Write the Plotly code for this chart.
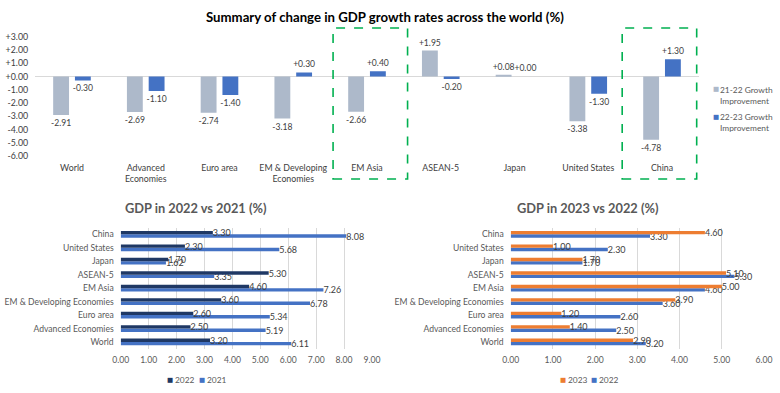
import plotly.graph_objects as go

# ---------------- data ----------------
regions = ["World", "Advanced Economies", "Euro area", "EM & Developing Economies",
           "EM Asia", "ASEAN-5", "Japan", "United States", "China"]
top_tick_labels = ["World", "Advanced<br>Economies", "Euro area", "EM & Developing<br>Economies",
                   "EM Asia", "ASEAN-5", "Japan", "United States", "China"]
change_21_22 = [-2.91, -2.69, -2.74, -3.18, -2.66, 1.95, 0.08, -3.38, -4.78]
change_22_23 = [-0.30, -1.10, -1.40, 0.30, 0.40, -0.20, 0.00, -1.30, 1.30]

gdp_2021 = [6.11, 5.19, 5.34, 6.78, 7.26, 3.35, 1.62, 5.68, 8.08]
gdp_2022 = [3.20, 2.50, 2.60, 3.60, 4.60, 5.30, 1.70, 2.30, 3.30]
gdp_2023 = [2.90, 1.40, 1.20, 3.90, 5.00, 5.10, 1.70, 1.00, 4.60]

top_y_ticks = [3, 2, 1, 0, -1, -2, -3, -4, -5, -6]
left_x_ticks = [0, 1, 2, 3, 4, 5, 6, 7, 8, 9]
right_x_ticks = [0, 1, 2, 3, 4, 5, 6]
highlighted = ["EM Asia", "China"]

top_names = ["21-22 Growth Improvement", "22-23 Growth Improvement"]
titles = ["Summary of change in GDP growth rates across the world (%)",
          "GDP in 2022 vs 2021 (%)", "GDP in 2023 vs 2022 (%)"]

# ---------------- style ----------------
FONT = "Lato"
GRAY = "#ADB9CA"
BLUE = "#4472C4"
NAVY = "#1F3864"
ORANGE = "#ED7D31"
LBL = "#404040"
TICK = "#595959"
W, H = 780, 393
N = len(regions)
CAT_RANGE = [-0.5, N - 0.5]

def px(xp):
    return xp / W

def py(yp):
    return 1 - yp / H

fig = go.Figure()

# top chart bars
bw = 0.215
top_lbl = dict(size=8.6, color=LBL, family=FONT)
fig.add_trace(go.Bar(
    x=regions, y=change_21_22, name=top_names[0], width=bw, offset=-0.255,
    marker=dict(color=GRAY, line=dict(width=0)),
    text=[f"{v:+.2f}" for v in change_21_22], textposition="outside",
    textfont=top_lbl, constraintext="none",
    cliponaxis=False, showlegend=False, xaxis="x", yaxis="y"))
fig.add_trace(go.Bar(
    x=regions, y=change_22_23, name=top_names[1], width=bw, offset=0.04,
    marker=dict(color=BLUE, line=dict(width=0)),
    text=[f"{v:+.2f}" for v in change_22_23], textposition="outside",
    textfont=top_lbl, constraintext="none",
    cliponaxis=False, showlegend=False, xaxis="x", yaxis="y"))

# bottom bars
hw = 0.25
bot_lbl = dict(size=9, color=LBL, family=FONT)

def hbar(vals, name, color, offset, xa, ya):
    return go.Bar(
        y=regions, x=vals, name=name, orientation="h", width=hw, offset=offset,
        marker=dict(color=color, line=dict(width=0)),
        text=[f"{v:.2f}" for v in vals], textposition="outside",
        textfont=bot_lbl, constraintext="none",
        cliponaxis=False, showlegend=False, xaxis=xa, yaxis=ya)

fig.add_trace(hbar(gdp_2021, "2021", BLUE, -hw, "x2", "y2"))
fig.add_trace(hbar(gdp_2022, "2022", NAVY, 0, "x2", "y2"))
fig.add_trace(hbar(gdp_2022, "2022", BLUE, -hw, "x3", "y3"))
fig.add_trace(hbar(gdp_2023, "2023", ORANGE, 0, "x3", "y3"))

ytickfont = dict(size=8.6, color=TICK, family=FONT)
xtickfont = dict(size=8.6, color=TICK, family=FONT)

fig.update_layout(
    width=W, height=H, margin=dict(l=0, r=0, t=0, b=0, autoexpand=False),
    paper_bgcolor="white", plot_bgcolor="white",
    font=dict(family=FONT, color=TICK),
    barmode="overlay",
    xaxis=dict(domain=[px(35.1), px(698.9)], type="category", categoryarray=regions,
               range=CAT_RANGE, tickvals=regions, ticktext=top_tick_labels, showgrid=False,
               showline=False, ticks="", tickfont=dict(size=8.8, color=LBL, family=FONT),
               anchor="y", ticklabelstandoff=5, automargin=False),
    yaxis=dict(domain=[py(156), py(36.7)], range=[-6, 3], tickvals=top_y_ticks,
               ticktext=[f"{v:+.2f}" for v in top_y_ticks], showgrid=False,
               zeroline=True, zerolinecolor="#D9D9D9", zerolinewidth=1.3,
               showline=False, ticks="", tickfont=dict(size=8.8, color=LBL, family=FONT),
               anchor="x", ticklabelstandoff=6, automargin=False),
    xaxis2=dict(domain=[px(120.7), px(372)], range=[0, 9], tickvals=left_x_ticks,
                ticktext=[f"{v:.2f}" for v in left_x_ticks], showgrid=True,
                gridcolor="#D9D9D9", gridwidth=1, zeroline=False, showline=False,
                ticks="", tickfont=xtickfont, anchor="y2", ticklabelstandoff=5,
                automargin=False),
    yaxis2=dict(domain=[py(348.7), py(227.6)], type="category", categoryarray=regions,
                range=CAT_RANGE, showgrid=False, showline=False, ticks="",
                tickfont=ytickfont, anchor="x2", ticklabelstandoff=6, automargin=False),
    xaxis3=dict(domain=[px(510.7), px(764)], range=[0, 6], tickvals=right_x_ticks,
                ticktext=[f"{v:.2f}" for v in right_x_ticks], showgrid=True,
                gridcolor="#D9D9D9", gridwidth=1, zeroline=False, showline=False,
                ticks="", tickfont=xtickfont, anchor="y3", ticklabelstandoff=5,
                automargin=False),
    yaxis3=dict(domain=[py(348.7), py(227.6)], type="category", categoryarray=regions,
                range=CAT_RANGE, showgrid=False, showline=False, ticks="",
                tickfont=ytickfont, anchor="x3", ticklabelstandoff=6, automargin=False),
)

# highlight boxes around EM Asia and China
box_offsets = {"EM Asia": (-0.46, 0.55), "China": (-0.54, 0.47)}
for name in highlighted:
    i = regions.index(name)
    lo, hi = box_offsets[name]
    fig.add_shape(type="rect", xref="x", yref="paper", x0=i + lo, x1=i + hi,
                  y0=py(179), y1=py(28), line=dict(color="#00B050", width=1.6, dash="dash"),
                  fillcolor="rgba(0,0,0,0)", layer="above")

annotations = []

def note(x, y, text, size, color, anchor="center", yanchor="middle", family=FONT, align="center"):
    annotations.append(dict(x=px(x), y=py(y), xref="paper", yref="paper", text=text,
                            showarrow=False, font=dict(size=size, color=color, family=family),
                            xanchor=anchor, yanchor=yanchor, align=align, borderpad=0))

# titles
note(385, 17, f"<b>{titles[0]}</b>", 13.2, "#000000")
note(196, 208, f"<b>{titles[1]}</b>", 12.8, TICK)
note(588, 208, f"<b>{titles[2]}</b>", 12.8, TICK)

# top legend
for nm, col, yy in [(top_names[0], GRAY, 89.5), (top_names[1], BLUE, 117)]:
    note(716, yy, "■", 6.5, col, family="DejaVu Sans")
    first = nm.replace(" Improvement", "")
    note(719, yy - 6, f"{first}<br>Improvement", 8.4, TICK, anchor="left", yanchor="top", align="left")

# bottom legends
for (nm, col, sx) in [("2022", NAVY, 170), ("2021", BLUE, 201.7),
                      ("2023", ORANGE, 562.7), ("2022", BLUE, 594)]:
    note(sx, 380, "■", 6.5, col, family="DejaVu Sans")
    note(sx + 4, 380, nm, 8.4, TICK, anchor="left")

fig.update_layout(annotations=annotations)

fig.write_html("out.html", config={"displayModeBar": False},
               post_script="document.body.style.margin='0';")
